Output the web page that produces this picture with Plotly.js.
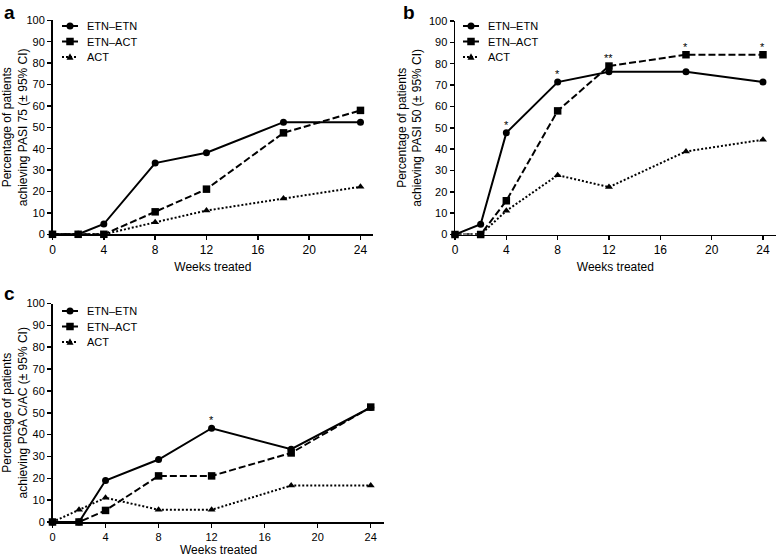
<!DOCTYPE html>
<html>
<head>
<meta charset="utf-8">
<script src="https://cdn.plot.ly/plotly-3.0.1.min.js"></script>
<style>
  html, body { margin: 0; padding: 0; background: #fff; }
  #chart { width: 777px; height: 558px; }
</style>
</head>
<body>
<div id="chart"></div>
<script>
// ---- data ----
var weeks = [0, 2, 4, 8, 12, 18, 24];
var seriesNames = ['ETN\u2013ETN', 'ETN\u2013ACT', 'ACT'];

var pasi75EtnEtn = [0, 0, 4.8, 33.3, 38.1, 52.4, 52.4];
var pasi75EtnAct = [0, 0, 0, 10.5, 21.1, 47.4, 57.9];
var pasi75Act    = [0, 0, 0, 5.6, 11.1, 16.7, 22.2];

var pasi50EtnEtn = [0, 4.8, 47.6, 71.4, 76.2, 76.2, 71.4];
var pasi50EtnAct = [0, 0, 15.8, 57.9, 78.9, 84.2, 84.2];
var pasi50Act    = [0, 0, 11.1, 27.8, 22.2, 38.9, 44.4];

var pgaEtnEtn = [0, 0, 19.0, 28.6, 42.9, 33.3, 52.4];
var pgaEtnAct = [0, 0, 5.3, 21.1, 21.1, 31.6, 52.6];
var pgaAct    = [0, 5.6, 11.1, 5.6, 5.6, 16.7, 16.7];

var sigWeeksB = [4, 8, 12, 18, 24];
var sigTextB  = ['*', '*', '**', '*', '*'];
var sigWeeksC = [12];
var sigTextC  = ['*'];

var xTicks = [0, 4, 8, 12, 16, 20, 24];
var yTicks = [0, 10, 20, 30, 40, 50, 60, 70, 80, 90, 100];

var yTitles = [
  'Percentage of patients<br>achieving PASI 75 (\u00b1 95% CI)',
  'Percentage of patients<br>achieving PASI 50 (\u00b1 95% CI)',
  'Percentage of patients<br>achieving PGA C/AC (\u00b1 95% CI)'
];
var panelLetters = ['a', 'b', 'c'];
var xTitle = 'Weeks treated';

// ---- styles ----
var FONT = 'Liberation Sans, Arial, Helvetica, sans-serif';
var styles = [
  {dash: 'solid', symbol: 'circle', size: 7},
  {dash: '7px,3px', symbol: 'square', size: 7.5},
  {dash: '2px,2px', symbol: 'triangle-up', size: 7}
];

var panels = [
  {data: [pasi75EtnEtn, pasi75EtnAct, pasi75Act], xa: 'x', ya: 'y'},
  {data: [pasi50EtnEtn, pasi50EtnAct, pasi50Act], xa: 'x2', ya: 'y2'},
  {data: [pgaEtnEtn, pgaEtnAct, pgaAct], xa: 'x3', ya: 'y3'}
];

var traces = [];
panels.forEach(function (p) {
  p.data.forEach(function (vals, i) {
    traces.push({
      type: 'scatter', mode: 'lines+markers',
      x: weeks, y: vals, name: seriesNames[i],
      xaxis: p.xa, yaxis: p.ya, showlegend: false,
      cliponaxis: false,
      line: {color: '#000', width: 2, dash: styles[i].dash},
      marker: {color: '#000', symbol: styles[i].symbol, size: styles[i].size, line: {width: 0}},
      hoverinfo: 'skip'
    });
  });
});

function sigAnnotations(sigWeeks, sigText, data, xref, yref) {
  return sigWeeks.map(function (w, k) {
    var idx = weeks.indexOf(w);
    var top = Math.max.apply(null, data.map(function (s) { return s[idx]; }));
    return {x: w, y: top, xref: xref, yref: yref, text: sigText[k], showarrow: false,
      yanchor: 'bottom', yshift: 0, font: {family: FONT, size: 11, color: '#000'}};
  });
}

function xAxis(domain, anchor, titleText, tickSize) {
  return {domain: domain, anchor: anchor, range: [0, 25], tickvals: xTicks,
    showline: true, linecolor: '#000', linewidth: 1.5, ticks: 'outside', ticklen: 4, tickwidth: 1.5,
    tickcolor: '#000', showgrid: false, zeroline: false, automargin: false,
    tickfont: {family: FONT, size: tickSize, color: '#000'},
    title: {text: titleText, standoff: 6, font: {family: FONT, size: 12, color: '#000'}}};
}
function yAxis(domain, anchor, title) {
  return {domain: domain, anchor: anchor, range: [0, 100], tickvals: yTicks,
    showline: true, linecolor: '#000', linewidth: 1.5, ticks: 'outside', ticklen: 4, tickwidth: 1.5,
    tickcolor: '#000', showgrid: false, zeroline: false, automargin: false,
    tickfont: {family: FONT, size: 11, color: '#000'},
    title: {text: title, standoff: 4, font: {family: FONT, size: 12, color: '#000'}}};
}

var W = 777, H = 558;
var domA = [52.5 / W, 373.3 / W], domB = [455 / W, 775.8 / W], domC = [52.5 / W, 384 / W];
var annotations = []
  .concat(sigAnnotations(sigWeeksB, sigTextB, panels[1].data, 'x2', 'y2'))
  .concat(sigAnnotations(sigWeeksC, sigTextC, panels[2].data, 'x3', 'y3'));
var letterPos = [[2, 0], [401, 0], [2, 281]];
panelLetters.forEach(function (l, i) {
  annotations.push({text: '<b>' + l + '</b>', xref: 'paper', yref: 'paper',
    x: letterPos[i][0] / W, y: 1 - letterPos[i][1] / H, xanchor: 'left', yanchor: 'top',
    showarrow: false, font: {family: FONT, size: 19, color: '#000'}});
});
// panel c x-axis title sits on the very bottom edge of the figure
annotations.push({text: xTitle, xref: 'paper', yref: 'paper',
  x: (domC[0] + domC[1]) / 2, y: 0, xanchor: 'center', yanchor: 'bottom',
  showarrow: false, borderpad: 0, font: {family: FONT, size: 12, color: '#000'}});

// ---- compact legends (line sample + marker + label), one per panel ----
var shapes = [];
var legendOrigins = [[62, 26], [463, 26], [62, 311]]; // px: left of sample, first row centre
var rowGap = 15.5, sampleLen = 16, textGap = 24;
legendOrigins.forEach(function (o) {
  seriesNames.forEach(function (name, i) {
    var cy = 1 - (o[1] + i * rowGap) / H;
    var cx = (o[0] + sampleLen / 2) / W;
    shapes.push({type: 'line', xref: 'paper', yref: 'paper',
      x0: o[0] / W, x1: (o[0] + sampleLen) / W, y0: cy, y1: cy,
      line: {color: '#000', width: 2, dash: styles[i].dash}});
    var sym = styles[i].symbol, h = styles[i].size / 2;
    var m = {xref: 'paper', yref: 'paper', xsizemode: 'pixel', ysizemode: 'pixel',
      xanchor: cx, yanchor: cy, fillcolor: '#000', line: {width: 0}};
    if (sym === 'circle') { m.type = 'circle'; m.x0 = -h; m.x1 = h; m.y0 = -h; m.y1 = h; }
    else if (sym === 'square') { m.type = 'rect'; m.x0 = -h; m.x1 = h; m.y0 = -h; m.y1 = h; }
    else { m.type = 'path'; m.path = 'M' + (-h) + ',' + (-h * 0.8) + ' L' + h + ',' + (-h * 0.8) + ' L0,' + (h * 1.1) + ' Z'; }
    shapes.push(m);
    annotations.push({text: name, xref: 'paper', yref: 'paper',
      x: (o[0] + textGap) / W, y: cy, xanchor: 'left', yanchor: 'middle', showarrow: false,
      borderpad: 0, font: {family: FONT, size: 11, color: '#000'}});
  });
});

var layout = {
  width: W, height: H,
  margin: {l: 0, r: 0, t: 0, b: 0},
  paper_bgcolor: '#fff', plot_bgcolor: 'rgba(0,0,0,0)',
  showlegend: false,
  xaxis:  xAxis(domA, 'y', xTitle, 12),
  yaxis:  yAxis([1 - 234.3 / H, 1 - 20.3 / H], 'x', yTitles[0]),
  xaxis2: xAxis(domB, 'y2', xTitle, 12),
  yaxis2: yAxis([1 - 234.5 / H, 1 - 21 / H], 'x2', yTitles[1]),
  xaxis3: xAxis(domC, 'y3', '', 11),
  yaxis3: yAxis([1 - 522 / H, 1 - 303.5 / H], 'x3', yTitles[2]),
  shapes: shapes,
  annotations: annotations
};

Plotly.newPlot('chart', traces, layout, {staticPlot: true, displayModeBar: false});
</script>
</body>
</html>
